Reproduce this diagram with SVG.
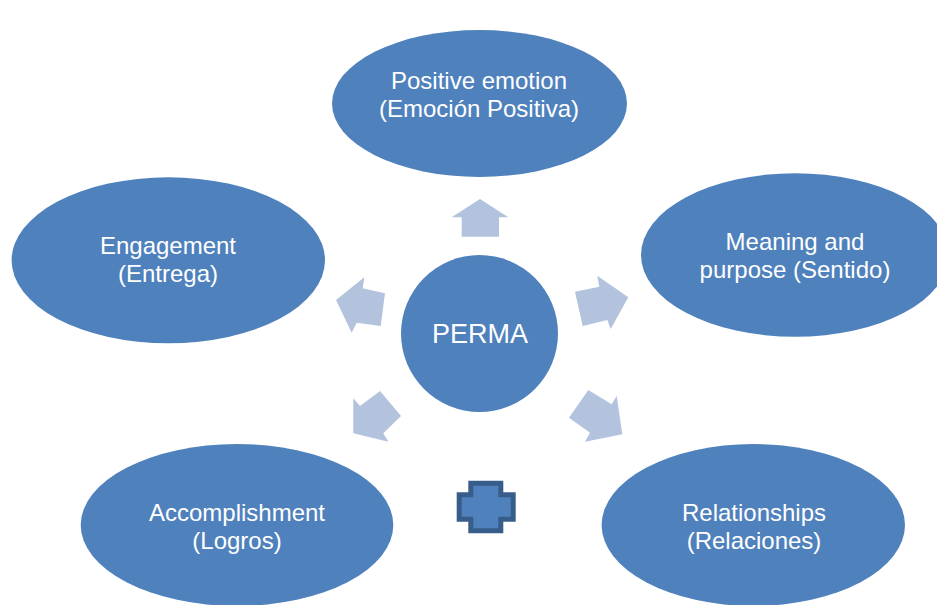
<svg xmlns="http://www.w3.org/2000/svg" width="937" height="605" viewBox="0 0 937 605">
<style>
.node{fill:#4F81BD;}
.lbl{font-family:"Liberation Sans",Arial,sans-serif;font-size:24px;fill:#FFFFFF;text-anchor:middle;}
.arrow{fill:#B3C3DE;}
</style>
<rect width="937" height="605" fill="#FFFFFF"/>
<g id="connectors">
<polygon class="arrow" points="480,199 508.3,217.3 499,217.3 499,236.7 461.7,236.7 461.7,217.3 451.7,217.3"/>
<polygon class="arrow" points="628.3,297.3 597.3,275.7 599.3,286.7 575,291.7 582.7,326 607.3,320 610.7,329"/>
<polygon class="arrow" points="622.3,434.3 616.7,396 611.7,404.3 588.3,390 569,417.7 590,432.7 585,441.7"/>
<polygon class="arrow" points="353.3,433.3 353.3,398.3 360,406 380,391 401,416 383.3,433.3 388.3,441.7"/>
<polygon class="arrow" points="336,300 364.3,277.3 362.7,288.3 385,293.3 380.7,326 356.7,322.7 351.7,332.7"/>
</g>
<g id="center">
<circle class="node" cx="479.5" cy="333.5" r="78.5"/>
<text class="lbl" x="480" y="343" style="font-size:27px">PERMA</text>
</g>
<g id="positive">
<ellipse class="node" cx="479.5" cy="103.5" rx="147.5" ry="73.5"/>
<text class="lbl" x="479" y="89">Positive emotion</text>
<text class="lbl" x="479" y="117">(Emoción Positiva)</text>
</g>
<g id="meaning">
<ellipse class="node" cx="795" cy="255" rx="154" ry="81.7"/>
<text class="lbl" x="795" y="250">Meaning and</text>
<text class="lbl" x="795" y="278">purpose (Sentido)</text>
</g>
<g id="engagement">
<ellipse class="node" cx="168.3" cy="260.3" rx="156.7" ry="83"/>
<text class="lbl" x="168" y="254">Engagement</text>
<text class="lbl" x="168" y="282">(Entrega)</text>
</g>
<g id="accomplishment">
<ellipse class="node" cx="237" cy="525" rx="156.3" ry="81"/>
<text class="lbl" x="237" y="521">Accomplishment</text>
<text class="lbl" x="237" y="549">(Logros)</text>
</g>
<g id="relationships">
<ellipse class="node" cx="753.3" cy="525" rx="151.7" ry="81"/>
<text class="lbl" x="754" y="521">Relationships</text>
<text class="lbl" x="754" y="549">(Relaciones)</text>
</g>
<g id="plus">
<path d="M470.8,483.2 H500.8 V494.8 H513.2 V519.2 H500.8 V530.8 H470.8 V519.2 H459.2 V494.8 H470.8 Z" fill="#4F81BD" stroke="#385D8A" stroke-width="5"/>
</g>
</svg>
